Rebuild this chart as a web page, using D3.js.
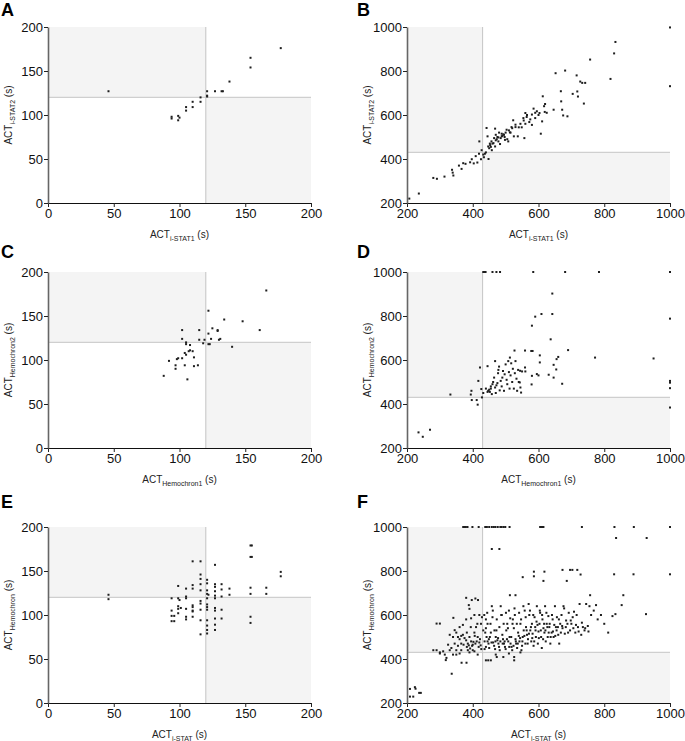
<!DOCTYPE html>
<html>
<head>
<meta charset="utf-8">
<script src="https://cdn.jsdelivr.net/npm/d3@7"></script>
<style>
  body { margin: 0; background: #fff; }
  svg { display: block; font-family: Arial, "Liberation Sans", sans-serif; }
</style>
</head>
<body>
<div id="chart"></div>
<script>
// Axis ranges, ticks and cut-off lines
const smallTicks = [0, 50, 100, 150, 200];
const largeTicks = [200, 400, 600, 800, 1000];
const smallCut = 120;
const largeCut = 430;

// Panel A: i-STAT1 vs i-STAT2 (small range)
const dataA = [[46,127],[94,98],[94,96],[99,94],[99,99],[100,97],[105,105],[105,109],[110,109],[110,115],
  [116,115],[116,120],[121,121],[121,127],[121,122],[127,127],[132,127],[133,127],[138,138],[154,154],[154,165],[177,176]];

// Panel B: i-STAT1 vs i-STAT2 (large range)
const dataB = [[207,220],[236,243],[280,314],[291,310],[314,320],[337,351],[339,338],[341,325],[358,370],[366,355],
  [371,381],[378,378],[392,385],[397,399],[403,380],[409,413],[414,384],[419,424],[420,480],[425,399],[427,440],
  [434,408],[437,424],[442,541],[445,503],[447,457],[448,400],[450,449],[453,463],[457,480],[463,472],[468,457],
  [468,538],[473,490],[478,480],[483,468],[488,503],[493,512],[498,487],[503,533],[508,480],[513,521],[518,545],
  [523,576],[525,503],[530,556],[537,503],[540,544],[549,544],[554,586],[557,495],[560,609],[564,591],[572,568],
  [580,602],[585,629],[590,586],[595,617],[603,609],[607,515],[611,571],[613,685],[617,640],[619,614],[646,624],
  [652,790],[669,662],[668,708],[672,624],[675,598],[681,802],[688,594],[704,696],[716,780],[718,707],[720,684],
  [727,752],[733,746],[738,652],[742,746],[757,852],[819,764],[830,880],[834,932],[1000,998],[1000,731],
  [460,470],[465,495],[470,510],[475,500],[480,520],[485,495],[490,505],[495,510],[500,520],[505,490],[510,530],
  [515,520],[520,540],[455,455],[452,470],[458,440],[470,485],[478,498],[488,515],[497,500],[530,545],[545,560],
  [555,575],[565,600],[575,580],[590,610],[600,600],[620,650],[625,610],[580,555],[560,560],[432,420],[440,430]];

// Panel C: Hemochron1 vs Hemochron2 (small range)
const dataC = [[88,82],[92,99],[97,94],[97,90],[98,101],[99,102],[102,134],[102,124],[102,102],[104,108],[104,94],
  [105,120],[105,118],[105,106],[106,78],[107,110],[108,117],[108,111],[110,110],[111,103],[111,93],[114,94],
  [115,134],[115,123],[118,119],[119,123],[122,156],[122,130],[122,118],[123,118],[124,124],[125,136],[129,134],
  [129,133],[130,123],[131,124],[134,146],[140,115],[148,144],[161,134],[166,179]];

// Panel D: Hemochron1 vs Hemochron2 (large range)
const dataD = [[432,1000],[437,1000],[439,1000],[460,1000],[472,1000],[483,1000],[584,1000],[681,1000],[784,1000],[1000,1000],
  [642,902],[642,809],[609,809],[590,797],[580,756],[637,694],[1000,788],[690,645],[582,641],[578,641],[559,643],
  [527,643],[660,614],[655,604],[772,611],[950,607],[604,621],[513,611],[468,595],[445,572],[422,566],[417,505],
  [396,460],[394,443],[332,443],[397,418],[412,418],[415,397],[428,430],[432,450],[426,468],[235,271],[248,251],
  [270,283],[1000,505],[1000,472],[1000,384],[1000,497],[672,492],[631,533],[646,520],[654,557],[646,578],[579,489],
  [600,530],[595,536],[604,589],[580,528],[559,566],[560,548],[550,548],[544,551],[543,498],[545,475],[547,452],
  [440,470],[445,455],[447,460],[450,465],[452,455],[455,470],[455,480],[458,445],[460,490],[462,500],[465,520],
  [468,475],[470,450],[472,485],[475,495],[477,540],[478,555],[480,570],[482,462],[485,505],[488,480],[490,520],
  [492,550],[495,460],[497,535],[500,580],[503,510],[505,490],[508,595],[510,545],[512,470],[515,530],[517,585],
  [520,500],[522,560],[525,470],[528,540],[530,595],[533,515],[535,460],[538,555],[540,500]];

// Panel E: i-STAT vs Hemochron (small range)
const dataE = [[46,123],[46,118],
  [94,119],[94,105],[94,99],[96,99],[94,93],[96,93],
  [99,133],[99,119],[100,117],[99,110],[99,107],[99,102],[101,108],
  [105,130],[105,121],[105,119],[105,107],[105,98],[105,95],
  [110,161],[110,134],[110,130],[110,111],[110,109],[110,105],[110,104],[110,98],
  [116,161],[116,146],[116,141],[116,135],[116,128],[116,116],[116,113],[116,106],[116,94],[116,78],
  [121,140],[121,136],[121,128],[121,124],[122,123],[121,119],[121,112],[121,109],[121,106],[121,94],[121,88],[121,83],[121,79],
  [127,157],[127,135],[127,132],[127,127],[127,122],[127,119],[127,108],[127,105],[127,96],[127,89],[127,83],
  [132,135],[132,129],[132,121],[132,106],[132,96],
  [138,130],[138,123],
  [154,179],[155,179],[154,166],[155,166],[154,131],[154,124],[154,98],[154,91],
  [166,131],[166,124],
  [177,149],[177,144]];

// Panel F: i-STAT vs Hemochron (large range)
const dataF = [[371,1000],[374,1000],[379,1000],[384,1000],[399,1000],[418,1000],[438,1000],[443,1000],[450,1000],
  [458,1000],[464,1000],[469,1000],[476,1000],[484,1000],[488,1000],[494,1000],[499,1000],[512,1000],[605,1000],
  [608,1000],[611,1000],[615,1000],[732,1000],[831,1000],[890,1000],[1000,1000],
  [836,950],[929,950],[458,900],[481,900],
  [586,797],[618,797],[586,776],[552,772],[615,755],[673,805],[696,805],[703,805],[718,805],[686,755],[728,784],
  [830,785],[889,785],[1000,785],
  [513,690],[530,690],[757,690],[858,690],[853,645],[834,604],[927,604],
  [380,678],[397,668],[408,675],[416,668],[388,645],[390,628],[290,561],[300,561],[341,587],[345,531],[330,510],
  [340,500],[350,520],[355,500],[360,490],[365,505],[370,510],[375,495],[380,485],[385,470],[390,500],[395,480],
  [400,465],[405,520],[410,545],[415,500],[420,475],[425,560],[428,590],[420,600],[405,600],[395,585],[380,580],
  [370,555],[360,545],[345,470],[335,450],[325,465],[355,460],[365,470],[372,465],[382,455],[392,448],[398,460],
  [408,470],[412,480],[418,455],[422,490],[426,445],[400,440],[385,440],[365,440],[350,440],[330,440],[310,435],
  [300,430],[290,440],[280,440],[300,425],[315,420],[320,405],[318,395],[340,420],[350,420],[360,425],[390,430],
  [405,435],[415,420],
  [435,600],[440,580],[445,560],[440,540],[438,520],[442,500],[445,480],[448,470],[440,455],[436,445],[450,450],
  [452,500],[455,520],[458,640],[460,590],[462,475],[465,460],[468,445],[470,500],[472,530],[475,485],[478,470],
  [480,455],[482,440],[485,640],[488,600],[490,510],[492,490],[495,470],[498,455],[500,445],[502,530],[505,560],
  [508,480],[510,620],[512,500],[515,470],[518,455],[520,440],[522,580],[525,540],[528,600],[530,490],[532,470],
  [535,450],[538,520],[540,505],[542,480],[545,560],[548,440],[550,460],[552,500],[555,530],[558,620],[560,470],
  [562,545],[565,510],[568,490],[570,650],[572,600],[575,530],[578,480],[580,560],[582,515],[585,460],[588,590],
  [590,545],[592,500],[595,640],[598,470],[600,525],[603,560],[605,610],[608,500],[610,450],[612,580],[615,540],
  [618,520],[620,640],[622,480],[625,560],[628,500],[630,595],[633,545],[636,470],[640,520],[643,580],[646,500],
  [650,640],[653,545],[656,590],[660,510],[663,470],[666,560],[670,600],[673,540],[676,640],[680,515],[684,575],
  [688,560],[692,610],[696,530],[700,560],[704,590],[708,615],[712,520],[716,600],[720,545],[725,650],[730,510],
  [735,545],[740,530],[745,650],[750,550],[755,640],[760,600],[768,620],[775,645],[780,580],[790,600],[800,560],
  [812,520],[825,595],
  [440,394],[447,394],[455,394],[473,409],[493,409],[526,394],[526,409],[470,420],[510,425],[545,430],
  [209,264],[209,229],[219,229],[224,272],[226,265],[237,246],[242,246],[336,333],[366,383],[381,383],
  [382,520],[388,462],[394,545],[402,478],[406,505],[414,560],[424,462],[432,530],[436,480],[444,610],[449,490],
  [454,560],[457,475],[461,620],[466,530],[469,480],[473,580],[477,495],[481,545],[484,480],[487,600],[491,470],
  [494,560],[497,480],[501,610],[504,490],[507,540],[511,455],[514,585],[517,500],[521,560],[524,460],[527,630],
  [531,480],[534,560],[537,470],[541,610],[544,495],[547,580],[551,480],[554,640],[557,505],[561,590],[564,530],
  [567,470],[571,515],[574,620],[577,545],[581,495],[584,600],[587,480],[591,530],[594,570],[597,555],[601,495],
  [604,620],[607,530],[611,600],[614,490],[617,560],[621,530],[624,610],[627,545],[631,520],[634,560],[637,500],
  [641,600],[644,525],[648,555],[651,505],[655,530],[659,545],[662,580],[668,520],[672,550],[678,630],[683,545],
  [690,520],[698,575],[706,540],[714,555],[722,525],[732,565],[742,540],[752,525]];

const panels = [
  { label: 'A', data: dataA, ticks: smallTicks, cut: smallCut, xSub: 'i-STAT1', ySub: 'i-STAT2', col: 0, row: 0 },
  { label: 'B', data: dataB, ticks: largeTicks, cut: largeCut, xSub: 'i-STAT1', ySub: 'i-STAT2', col: 1, row: 0 },
  { label: 'C', data: dataC, ticks: smallTicks, cut: smallCut, xSub: 'Hemochron1', ySub: 'Hemochron2', col: 0, row: 1 },
  { label: 'D', data: dataD, ticks: largeTicks, cut: largeCut, xSub: 'Hemochron1', ySub: 'Hemochron2', col: 1, row: 1 },
  { label: 'E', data: dataE, ticks: smallTicks, cut: smallCut, xSub: 'i-STAT', ySub: 'Hemochron', col: 0, row: 2 },
  { label: 'F', data: dataF, ticks: largeTicks, cut: largeCut, xSub: 'i-STAT', ySub: 'Hemochron', col: 1, row: 2 }
];

const W = 685, H = 741;
const plotW = 263, plotH = 176;
const colLeft = [48, 407];
const rowTop = [27, 272, 527];
const labelTop = [16, 258, 508];

const svg = d3.select('#chart').append('svg')
  .attr('width', W)
  .attr('height', H);

panels.forEach(p => {
  const left = colLeft[p.col];
  const top = rowTop[p.row];
  const bottom = top + plotH;
  const dom = [p.ticks[0], p.ticks[p.ticks.length - 1]];

  const x = d3.scaleLinear().domain(dom).range([left, left + plotW]);
  const y = d3.scaleLinear().domain(dom).range([bottom, top]);

  const g = svg.append('g');

  // shaded quadrants
  g.append('rect')
    .attr('x', x(dom[0])).attr('y', y(dom[1]))
    .attr('width', x(p.cut) - x(dom[0])).attr('height', y(p.cut) - y(dom[1]))
    .attr('fill', '#f4f4f4');
  g.append('rect')
    .attr('x', x(p.cut)).attr('y', y(p.cut))
    .attr('width', x(dom[1]) - x(p.cut)).attr('height', y(dom[0]) - y(p.cut))
    .attr('fill', '#f4f4f4');

  // cut-off lines
  g.append('line')
    .attr('x1', x(dom[0])).attr('x2', x(dom[1]))
    .attr('y1', y(p.cut)).attr('y2', y(p.cut))
    .attr('stroke', '#cfcfcf').attr('stroke-width', 1.2);
  g.append('line')
    .attr('x1', x(p.cut)).attr('x2', x(p.cut))
    .attr('y1', y(dom[0])).attr('y2', y(dom[1]))
    .attr('stroke', '#c4c4c4').attr('stroke-width', 1);

  // points
  g.selectAll('rect.pt')
    .data(p.data)
    .enter()
    .append('rect')
    .attr('class', 'pt')
    .attr('x', d => x(d[0]) - 1)
    .attr('y', d => y(d[1]) - 1)
    .attr('width', 2)
    .attr('height', 2)
    .attr('fill', '#1e1e1e');

  // axes
  const fmt = d3.format('d');
  const xAxis = g.append('g')
    .attr('transform', `translate(0,${bottom})`)
    .call(d3.axisBottom(x).tickValues(p.ticks).tickFormat(fmt).tickSize(4).tickPadding(2).tickSizeOuter(0));
  const yAxis = g.append('g')
    .attr('transform', `translate(${left},0)`)
    .call(d3.axisLeft(y).tickValues(p.ticks).tickFormat(fmt).tickSize(4).tickPadding(1).tickSizeOuter(0));

  [xAxis, yAxis].forEach(a => {
    a.selectAll('text')
      .attr('font-family', 'Arial, "Liberation Sans", sans-serif')
      .attr('font-size', 13)
      .attr('fill', '#111');
    a.selectAll('line').attr('stroke', '#222');
  });
  xAxis.select('.domain').attr('stroke', '#111').attr('stroke-width', 1);
  yAxis.select('.domain').attr('stroke', '#666').attr('stroke-width', 1.6);

  // axis titles with subscripts
  const xt = g.append('text')
    .attr('x', left + plotW / 2)
    .attr('y', bottom + 35)
    .attr('text-anchor', 'middle')
    .attr('font-size', 10)
    .attr('fill', '#222');
  xt.append('tspan').text('ACT');
  xt.append('tspan').attr('font-size', 7).attr('dy', 2.5).text(p.xSub);
  xt.append('tspan').attr('dy', -2.5).text(' (s)');

  const yt = g.append('text')
    .attr('transform', `translate(${left - 36},${top + plotH / 2}) rotate(-90)`)
    .attr('text-anchor', 'middle')
    .attr('font-size', 10)
    .attr('fill', '#222');
  yt.append('tspan').text('ACT');
  yt.append('tspan').attr('font-size', 7).attr('dy', 2.5).text(p.ySub);
  yt.append('tspan').attr('dy', -2.5).text(' (s)');

  // panel letter
  svg.append('text')
    .attr('x', p.col === 0 ? 1 : 357)
    .attr('y', labelTop[p.row])
    .attr('font-size', 18)
    .attr('font-weight', 'bold')
    .attr('fill', '#000')
    .text(p.label);
});
</script>
</body>
</html>
